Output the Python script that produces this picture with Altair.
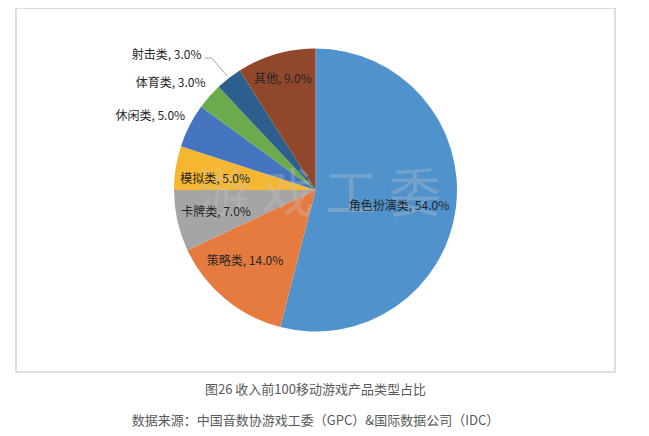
import altair as alt
import pandas as pd
import numpy as np

# ---- data ----
categories = ["角色扮演类", "策略类", "卡牌类", "模拟类", "休闲类", "体育类", "射击类", "其他"]
values = [54.0, 14.0, 7.0, 5.0, 5.0, 3.0, 3.0, 9.0]
colors = ["#5092CC", "#E67B3F", "#A5A5A5", "#F5B731", "#4574C0", "#6DAA4D", "#2D5F8E", "#91472B"]
title_lines = ["图26 收入前100移动游戏产品类型占比",
               "数据来源：中国音数协游戏工委（GPC）&国际数据公司（IDC）"]
watermark = "游 戏 工 委"

# ---- layout (not data) ----
W, H = 599, 364
CX, CY = W / 2, 182
R = 141.5
label_r = [85, 100, 102, 101, 181, 180, 201, 116]
label_shift = [3.4, 5.2, -0.1, -2.7, -2.9, -5.0, -10.0, -0.1]
leader_for = "射击类"
FONT = "Noto Sans CJK SC"

df = pd.DataFrame({"cat": categories, "value": values, "idx": range(len(values))})
total = sum(values)
cum = np.cumsum([0] + values[:-1])
mid = [(c + v / 2) / total * 360 for c, v in zip(cum, values)]
lang = np.radians(np.array(mid) + np.array(label_shift))
df["lx"] = CX + np.array(label_r) * np.sin(lang)
df["ly"] = CY - np.array(label_r) * np.cos(lang)
df["label"] = [f"{c}, {v:.1f}%" for c, v in zip(categories, values)]

# leader line for the shooter slice
i = categories.index(leader_for)
a = np.radians(mid[i])
p0 = (df.loc[i, "lx"] + 38, df.loc[i, "ly"] + 3)
p1 = (p0[0] + 7, p0[1])
p2 = (CX + (R + 3) * np.sin(a), CY - (R + 3) * np.cos(a))
lead = pd.DataFrame({"x": [p0[0], p1[0], p2[0]], "y": [p0[1], p1[1], p2[1]], "o": [0, 1, 2]})

arcs = alt.Chart(df).mark_arc(outerRadius=R, stroke=None).encode(
    theta=alt.Theta("value:Q", stack=True),
    color=alt.Color("cat:N", scale=alt.Scale(domain=categories, range=colors), legend=None),
    order=alt.Order("idx:Q"),
)

wm = alt.Chart(pd.DataFrame({"t": [watermark]})).mark_text(
    font=FONT, fontSize=52, color="#C8C8C8", opacity=0.3, baseline="middle", align="center"
).encode(x=alt.value(CX + 4), y=alt.value(CY + 6), text="t:N")

labels = alt.Chart(df).mark_text(
    font=FONT, fontSize=12, color="#262626", baseline="middle", align="center"
).encode(
    x=alt.X("lx:Q", scale=None, axis=None),
    y=alt.Y("ly:Q", scale=None, axis=None),
    text="label:N",
)

leader = alt.Chart(lead).mark_line(color="#A6A6A6", strokeWidth=1).encode(
    x=alt.X("x:Q", scale=None, axis=None),
    y=alt.Y("y:Q", scale=None, axis=None),
    order="o:Q",
)

chart = alt.layer(arcs, wm, leader, labels).properties(
    width=W,
    height=H,
    padding={"left": 8, "top": 0, "right": 8, "bottom": 0},
    title=alt.TitleParams(
        text=title_lines, orient="bottom", anchor="middle", font=FONT, fontSize=13,
        fontWeight="normal", color="#595959", lineHeight=31, offset=12,
    ),
).configure_view(stroke="#D4D4D4", strokeWidth=1.5)

chart.save("out.html", embed_options={"renderer": "svg", "actions": False})
